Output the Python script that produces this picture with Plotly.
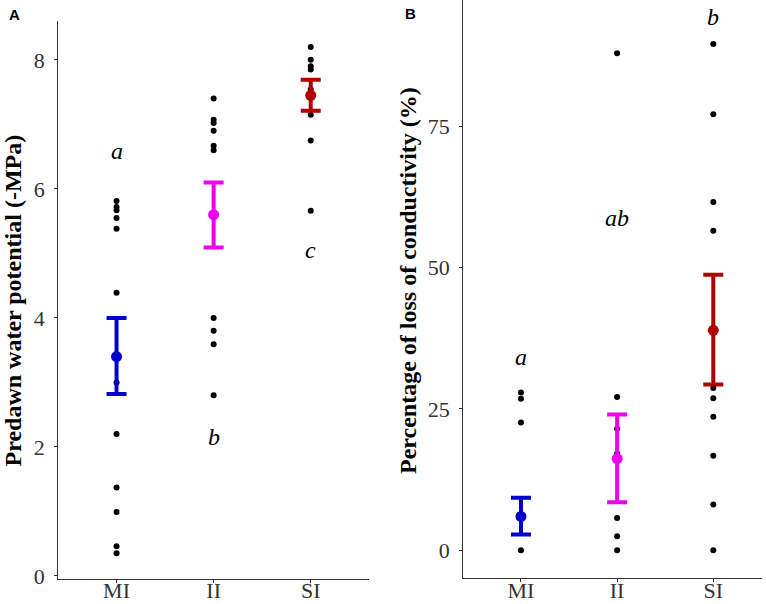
import plotly.graph_objects as go

# groups on the x axis
groups = ["MI", "II", "SI"]
colors = ["#0000CD", "#EE00EE", "#B00000"]

# panel A - predawn water potential (-MPa), individual trees
pwp_mi = [5.81, 5.72, 5.67, 5.55, 5.38, 4.39, 3.0, 2.2, 1.37, 0.99, 0.46, 0.35]
pwp_ii = [7.40, 7.07, 7.02, 6.90, 6.67, 6.60, 4.0, 3.80, 3.59, 2.80]
pwp_si = [8.20, 8.0, 7.90, 7.85, 7.54, 7.15, 6.75, 5.66]
# mean and standard error limits
pwp_mean = [3.40, 5.60, 7.45]
pwp_low = [2.82, 5.09, 7.21]
pwp_high = [4.00, 6.10, 7.69]
pwp_letters = ["a", "b", "c"]
pwp_letter_y = [6.59, 2.15, 5.05]

# panel B - percentage loss of conductivity (%)
plc_mi = [27.9, 26.8, 22.6, 0.0]
plc_ii = [87.9, 27.1, 21.5, 17.1, 5.7, 2.5, 0.0]
plc_si = [89.5, 77.1, 61.6, 56.5, 28.7, 26.9, 23.6, 16.7, 8.1, 0.0]
plc_mean = [6.0, 16.2, 38.9]
plc_low = [2.8, 8.5, 29.3]
plc_high = [9.3, 24.0, 48.7]
plc_letters = ["a", "ab", "b"]
plc_letter_y = [34.2, 58.7, 94.3]

serif = "Liberation Serif"

fig = go.Figure()


def add_panel(fig, xa, ya, points, mean, low, high):
    # raw points first, so the error bars sit on top of them
    for g, vals in zip(groups, points):
        fig.add_trace(go.Scatter(
            x=[g] * len(vals), y=vals, mode="markers",
            marker=dict(color="black", size=6),
            xaxis=xa, yaxis=ya, showlegend=False, hoverinfo="y"))
    for i, g in enumerate(groups):
        fig.add_trace(go.Scatter(
            x=[g], y=[mean[i]], mode="markers",
            marker=dict(color=colors[i], size=11),
            error_y=dict(type="data", symmetric=False,
                         array=[high[i] - mean[i]],
                         arrayminus=[mean[i] - low[i]],
                         color=colors[i], thickness=4, width=10),
            xaxis=xa, yaxis=ya, showlegend=False))


add_panel(fig, "x", "y", [pwp_mi, pwp_ii, pwp_si], pwp_mean, pwp_low, pwp_high)
add_panel(fig, "x2", "y2", [plc_mi, plc_ii, plc_si], plc_mean, plc_low, plc_high)

axis_common = dict(
    showgrid=False, zeroline=False, showline=True, automargin=False,
    linecolor="#333333", linewidth=1.2,
    ticks="outside", ticklen=3, tickcolor="#333333",
    tickfont=dict(family=serif, size=22, color="#333333"),
)
xtick_font = dict(family=serif, size=22, color="#333333")

fig.update_layout(
    width=766, height=604,
    margin=dict(l=0, r=0, t=0, b=0),
    paper_bgcolor="white", plot_bgcolor="white",
    xaxis=dict(axis_common, domain=[0.0761, 0.4817], range=[-0.6, 2.6],
               type="category", categoryorder="array", categoryarray=groups,
               anchor="y", tickfont=xtick_font, ticklabelstandoff=-11),
    yaxis=dict(axis_common, domain=[0.0422, 0.965], range=[-0.04, 8.6],
               tickvals=[0, 2, 4, 6, 8], anchor="x", ticklabelstandoff=5),
    xaxis2=dict(axis_common, domain=[0.6048, 0.9952], range=[-0.6, 2.51],
                type="category", categoryorder="array", categoryarray=groups,
                anchor="y2", tickfont=xtick_font, ticklabelstandoff=-11),
    yaxis2=dict(axis_common, domain=[0.0430, 1.0], range=[-4.9, 97.3],
                tickvals=[0, 25, 50, 75], anchor="x2", ticklabelstandoff=5),
)

annotations = []
for g, t, y in zip(groups, pwp_letters, pwp_letter_y):
    annotations.append(dict(x=g, y=y, xref="x", yref="y", text="<i>%s</i>" % t,
                            showarrow=False, font=dict(family=serif, size=24, color="black")))
for g, t, y in zip(groups, plc_letters, plc_letter_y):
    annotations.append(dict(x=g, y=y, xref="x2", yref="y2", text="<i>%s</i>" % t,
                            showarrow=False, font=dict(family=serif, size=24, color="black")))

# axis titles and panel tags
annotations += [
    dict(x=12 / 766, y=1 - 300.5 / 604, xref="paper", yref="paper", textangle=-90,
         text="<b>Predawn water potential (-MPa)</b>", showarrow=False,
         xanchor="center", yanchor="middle",
         font=dict(family=serif, size=24, color="black")),
    dict(x=408 / 766, y=1 - 281 / 604, xref="paper", yref="paper", textangle=-90,
         text="<b>Percentage of loss of conductivity (%)</b>", showarrow=False,
         xanchor="center", yanchor="middle",
         font=dict(family=serif, size=24, color="black")),
    dict(x=14 / 766, y=1 - 14 / 604, xref="paper", yref="paper", text="<b>A</b>",
         showarrow=False, xanchor="center", yanchor="middle",
         font=dict(family="Liberation Sans", size=15, color="black")),
    dict(x=410 / 766, y=1 - 13 / 604, xref="paper", yref="paper", text="<b>B</b>",
         showarrow=False, xanchor="center", yanchor="middle",
         font=dict(family="Liberation Sans", size=15, color="black")),
]
fig.update_layout(annotations=annotations)

# page has a default body margin; drop it so the figure fills the window
fig.write_html("out.html", config={"displayModeBar": False},
               post_script="document.body.style.margin='0px';"
                           "document.body.style.overflow='hidden';")
